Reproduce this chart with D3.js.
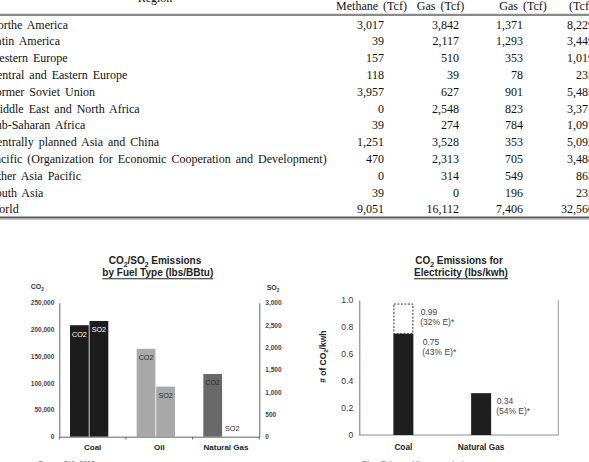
<!DOCTYPE html>
<html><head><meta charset="utf-8">
<script src="https://cdn.jsdelivr.net/npm/d3@7"></script>
<style>
body{margin:0;background:#fff;}
svg{display:block;}
</style></head><body>
<svg id="c" width="589" height="462"></svg>
<script>
// ---------- table data ----------
const regions = ["Northe America","Latin America","Western Europe","Central and Eastern Europe","Former Soviet Union","Middle East and North Africa","Sub-Saharan Africa","Centrally planned Asia and China","Pacific (Organization for Economic Cooperation and Development)","Other Asia Pacific","South Asia","World"];
const coalbedMethane = ["3,017","39","157","118","3,957","0","39","1,251","470","0","39","9,051"];
const tightGas = ["3,842","2,117","510","39","627","2,548","274","3,528","2,313","314","0","16,112"];
const shaleGas = ["1,371","1,293","353","78","901","823","784","353","705","549","196","7,406"];
const totalTcf = ["8,229","3,449","1,019","235","5,485","3,371","1,097","5,092","3,488","863","235","32,560"];
const tableHeaders = ["Methane (Tcf)","Gas (Tcf)","Gas (Tcf)","(Tcf)"];

// ---------- left chart data ----------
const fuels = ["Coal","Oil","Natural Gas"];
const co2LbsPerBBtu = [208000,164000,117000];
const so2LbsPerBBtu = [2591,1122,1];
const co2Ticks = [0,50000,100000,150000,200000,250000];
const so2Ticks = [0,500,1000,1500,2000,2500,3000];

// ---------- right chart data ----------
const elecFuels = ["Coal","Natural Gas"];
const elecCo2 = [0.75,0.31];
const coalLowEff = 0.97;
const elecTicks = [0,0.2,0.4,0.6,0.8,1.0];
const annoValue = ["0.99","0.75","0.34"];
const annoEff = ["(32% E)*","(43% E)*","(54% E)*"];

const svg = d3.select("#c");
const SANS = "'Liberation Sans', Arial, sans-serif";
const SERIF = "'Liberation Serif', 'Times New Roman', serif";

// rich text helper: parts = [[text, isSub], ...]
function rich(sel, parts, fs){
  let shifted = false;
  parts.forEach(([t, sub]) => {
    const ts = sel.append("tspan").text(t);
    if (sub) { ts.attr("font-size", fs*0.68).attr("dy", fs*0.22); shifted = true; }
    else if (shifted) { ts.attr("dy", -fs*0.22); shifted = false; }
  });
  return sel;
}

// ================= TABLE =================
const tbl = svg.append("g").attr("font-family", SERIF).attr("font-size", 12).attr("fill", "#111").style("word-spacing","2px");
tbl.append("text").attr("x",155).attr("y",2).attr("text-anchor","middle").text("Region");
const headerX = [371.5, 440.5, 523, 581];
tableHeaders.forEach((h,i)=>{
  tbl.append("text").attr("x",headerX[i]).attr("y",10).attr("text-anchor","middle").text(h);
});
tbl.append("line").attr("x1",0).attr("x2",589).attr("y1",14.8).attr("y2",14.8).attr("stroke","#8a8a8a").attr("stroke-width",2.2);
const rowY = d3.scaleLinear().domain([0, regions.length-1]).range([28.7, 213.3]);
const colRight = [384, 459, 523, 594];
const cols = [coalbedMethane, tightGas, shaleGas, totalTcf];
regions.forEach((r,i)=>{
  tbl.append("text").attr("x",-11).attr("y",rowY(i)).text(r);
  cols.forEach((c,j)=>{
    tbl.append("text").attr("x",colRight[j]).attr("y",rowY(i)).attr("text-anchor","end").text(c[i]);
  });
});
tbl.append("line").attr("x1",0).attr("x2",589).attr("y1",217.5).attr("y2",217.5).attr("stroke","#5a5a5a").attr("stroke-width",2);
tbl.append("line").attr("x1",0).attr("x2",589).attr("y1",219.3).attr("y2",219.3).attr("stroke","#b5b5b5").attr("stroke-width",1);

// ================= LEFT CHART =================
const L = svg.append("g").attr("font-family", SANS);
const lx0 = d3.scaleBand().domain(fuels).range([59.3, 259.3]);
const lx1 = d3.scaleBand().domain(["CO2","SO2"]).range([10.7, 49]).paddingInner(0.04);
const yL = d3.scaleLinear().domain([0,250000]).range([436.7, 302.7]);
const yR = d3.scaleLinear().domain([0,3000]).range([436.7, 302.7]);
const fuelFill = ["#1c1c1c","#a9a9a9","#696969"];
const labelFill = ["#ffffff","#2a2a2a","#2a2a2a"];

// titles
const t1 = L.append("text").attr("x",155).attr("y",264.3).attr("text-anchor","middle").attr("font-size",10).attr("font-weight","bold").attr("fill","#222");
rich(t1, [["CO"],["2",true],["/SO"],["2",true],[" Emissions"]], 10);
const t2 = L.append("text").attr("x",157.8).attr("y",276).attr("text-anchor","middle").attr("font-size",10).attr("font-weight","bold").attr("fill","#222").text("by Fuel Type (lbs/BBtu)");
{ const w = t2.node().getComputedTextLength();
  L.append("line").attr("x1",157.8-w/2).attr("x2",157.8+w/2).attr("y1",278.8).attr("y2",278.8).attr("stroke","#222").attr("stroke-width",1.1); }

// axis unit labels
rich(L.append("text").attr("x",30.7).attr("y",289).attr("font-size",7).attr("font-weight","bold").attr("fill","#333"), [["CO"],["2",true]], 7);
rich(L.append("text").attr("x",266.7).attr("y",290).attr("font-size",7).attr("font-weight","bold").attr("fill","#333"), [["SO"],["2",true]], 7);

// bars
fuels.forEach((f,i)=>{
  const g = L.append("g").attr("transform",`translate(${lx0(f)},0)`);
  const vals = [["CO2", yL(co2LbsPerBBtu[i])],["SO2", yR(so2LbsPerBBtu[i])]];
  vals.forEach(([k, top])=>{
    g.append("rect").attr("x",lx1(k)).attr("width",lx1.bandwidth()).attr("y",top).attr("height",436.7-top).attr("fill",fuelFill[i]);
    const inside = (436.7-top) > 14;
    g.append("text").attr("x",lx1(k)+lx1.bandwidth()/2).attr("y", inside ? top+11.5 : top-6)
      .attr("text-anchor","middle").attr("font-size",7.2).attr("fill", inside ? labelFill[i] : "#2a2a2a").text(k);
  });
});

// axes
const axL = L.append("g").attr("transform","translate(59.3,0)")
  .call(d3.axisLeft(yL).tickValues(co2Ticks).tickSize(0).tickPadding(5).tickFormat(d3.format(",")));
const axR = L.append("g").attr("transform","translate(259.3,0)")
  .call(d3.axisRight(yR).tickValues(so2Ticks).tickSize(0).tickPadding(6).tickFormat(d3.format(",")));
[axL, axR].forEach(a=>{
  a.select(".domain").attr("stroke","#666");
  a.selectAll("text").attr("font-family",SANS).attr("font-size",6.5).attr("font-weight","bold").attr("fill","#444");
});
const axB = L.append("g").attr("transform","translate(0,436.7)")
  .call(d3.axisBottom(lx0).tickSize(0).tickPadding(8));
axB.select(".domain").attr("stroke","#666");
axB.selectAll("text").attr("font-family",SANS).attr("font-size",8).attr("font-weight","bold").attr("fill","#222");
fuels.concat(["end"]).forEach((f,i)=>{
  const x = i < fuels.length ? lx0(f) : lx0.range()[1];
  L.append("line").attr("x1",x).attr("x2",x).attr("y1",436.7).attr("y2",439.5).attr("stroke","#666");
});
L.append("text").attr("x",38).attr("y",466).attr("font-size",7).attr("fill","#555").text("Source: EIA, 2000");

// ================= RIGHT CHART =================
const R = svg.append("g").attr("font-family", SANS);
const xE = d3.scalePoint().domain(elecFuels).range([364.5, 520]).padding(0.5);
const yE = d3.scaleLinear().domain([0,1]).range([435, 300]);
const bw = 20;

rich(R.append("text").attr("x",459).attr("y",264.3).attr("text-anchor","middle").attr("font-size",10).attr("font-weight","bold").attr("fill","#222"),
  [["CO"],["2",true],[" Emissions for"]], 10);
const t4 = R.append("text").attr("x",461).attr("y",276).attr("text-anchor","middle").attr("font-size",10).attr("font-weight","bold").attr("fill","#222").text("Electricity (lbs/kwh)");
{ const w = t4.node().getComputedTextLength();
  R.append("line").attr("x1",461-w/2).attr("x2",461+w/2).attr("y1",278.8).attr("y2",278.8).attr("stroke","#222").attr("stroke-width",1.1); }

// frame
R.append("line").attr("x1",558.3).attr("x2",558.3).attr("y1",300).attr("y2",yE(0)).attr("stroke","#9a9a9a");
R.append("line").attr("x1",359.3).attr("x2",558.3).attr("y1",yE(0)).attr("y2",yE(0)).attr("stroke","#8a8a8a");
const axE = R.append("g").attr("transform","translate(359.3,0)")
  .call(d3.axisLeft(yE).tickValues(elecTicks).tickSize(0).tickPadding(6).tickFormat(d=> d===0 ? "0" : d3.format(".1f")(d)));
axE.select(".domain").attr("stroke","#777");
axE.selectAll("text").attr("font-family",SANS).attr("font-size",8.6).attr("fill","#333");

// bars
elecFuels.forEach((f,i)=>{
  R.append("rect").attr("x",xE(f)-bw/2).attr("width",bw).attr("y",yE(elecCo2[i])).attr("height",yE(0)-yE(elecCo2[i])).attr("fill","#1e1e1e");
});
R.append("rect").attr("x",xE("Coal")-bw/2+0.5).attr("width",bw-1).attr("y",yE(coalLowEff)).attr("height",yE(elecCo2[0])-yE(coalLowEff))
  .attr("fill","none").attr("stroke","#333").attr("stroke-width",1).attr("stroke-dasharray","2,1.5");

// annotations
const annoPos = [[xE("Coal")+17.4, yE(coalLowEff)+10.7],[xE("Coal")+19.4, yE(elecCo2[0])+11],[xE("Natural Gas")+15.6, yE(elecCo2[1])+10.8]];
annoPos.forEach(([x,y],i)=>{
  R.append("text").attr("x",x).attr("y",y).attr("font-size",8.5).attr("fill","#444").text(annoValue[i]);
  R.append("text").attr("x",x-0.6).attr("y",y+10).attr("font-size",8.5).attr("fill","#444").text(annoEff[i]);
});

// category labels
elecFuels.forEach(f=>{
  R.append("text").attr("x",xE(f)).attr("y",449.6).attr("text-anchor","middle").attr("font-size",8.3).attr("font-weight","bold").attr("fill","#222").text(f);
});
// y title
rich(R.append("text").attr("transform","translate(326.3,356.7) rotate(-90)").attr("text-anchor","middle").attr("font-size",8.5).attr("font-weight","bold").attr("fill","#222"),
  [["# of CO"],["2",true],["/kwh"]], 8.5);
R.append("text").attr("x",361.7).attr("y",466).attr("font-size",7).attr("fill","#555").text("'E' = efficiency of the power plant");
</script>
</body></html>
